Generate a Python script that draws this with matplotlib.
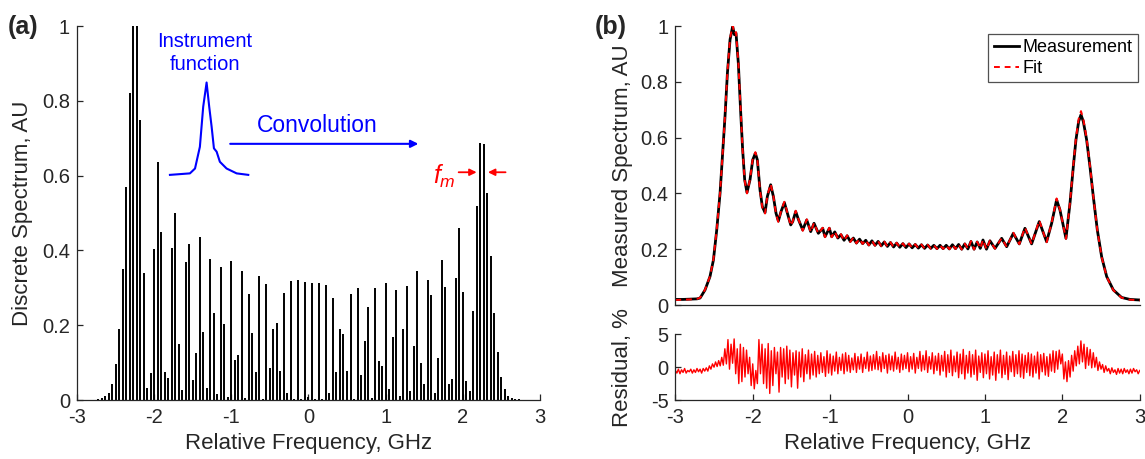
import numpy as np
import matplotlib
matplotlib.use('Agg')
import matplotlib.pyplot as plt

plt.rcParams['font.family'] = ['Liberation Sans', 'DejaVu Sans']
plt.rcParams['mathtext.fontset'] = 'custom'
plt.rcParams['mathtext.it'] = 'Liberation Sans:italic'
plt.rcParams['mathtext.rm'] = 'Liberation Sans'

# ---- (a) discrete spectrum: comb lines with spacing fm ----
comb_f0 = -2.724   # GHz, first line
comb_fm = 0.0454   # GHz, line spacing
bar_h = [0.003, 0.005, 0.010, 0.018, 0.043, 0.095, 0.190, 0.350, 0.570, 0.820,
         1.000, 1.000, 0.750, 0.340, 0.033, 0.071, 0.405, 0.636, 0.450, 0.076,
         0.058, 0.407, 0.500, 0.150, 0.027, 0.368, 0.416, 0.053, 0.127, 0.436,
         0.181, 0.031, 0.378, 0.233, 0.015, 0.356, 0.202, 0.009, 0.371, 0.107,
         0.120, 0.346, 0.006, 0.283, 0.179, 0.076, 0.331, 0.003, 0.310, 0.085,
         0.190, 0.207, 0.078, 0.287, 0.018, 0.318, 0.002, 0.320, 0.002, 0.316,
         0.009, 0.314, 0.002, 0.313, 0.002, 0.307, 0.018, 0.274, 0.074, 0.190,
         0.176, 0.078, 0.283, 0.002, 0.300, 0.067, 0.158, 0.250, 0.006, 0.300,
         0.104, 0.091, 0.314, 0.030, 0.168, 0.294, 0.012, 0.189, 0.306, 0.025,
         0.144, 0.345, 0.099, 0.043, 0.320, 0.282, 0.020, 0.113, 0.374, 0.303,
         0.043, 0.056, 0.327, 0.459, 0.290, 0.051, 0.024, 0.238, 0.520, 0.688,
         0.684, 0.554, 0.385, 0.234, 0.129, 0.062, 0.029, 0.012, 0.006, 0.003,
         0.002]

# instrument function sketch (drawn in the data frame of panel a)
instr_x = [-1.795, -1.536, -1.470, -1.407, -1.364, -1.320, -1.286, -1.255,
           -1.225, -1.190, -1.148, -1.061, -0.931, -0.780]
instr_y = [0.602, 0.606, 0.619, 0.677, 0.784, 0.849, 0.784, 0.731,
           0.673, 0.664, 0.637, 0.619, 0.606, 0.602]

# ---- (b) measured spectrum and fit ----
meas_x = [-3.000, -2.900, -2.810, -2.720, -2.680, -2.616, -2.552, -2.508, -2.465, -2.422,
          -2.388, -2.358, -2.327, -2.293, -2.259, -2.237, -2.216, -2.186, -2.155, -2.130,
          -2.104, -2.074, -2.035, -2.000, -1.966, -1.940, -1.906, -1.876, -1.841, -1.811,
          -1.768, -1.733, -1.699, -1.669, -1.634, -1.591, -1.552, -1.509, -1.483, -1.445,
          -1.410, -1.354, -1.302, -1.251, -1.208, -1.152, -1.096, -1.066, -1.010, -0.980,
          -0.940, -0.900, -0.860, -0.820, -0.780, -0.740, -0.700, -0.660, -0.620, -0.580,
          -0.540, -0.500, -0.460, -0.420, -0.380, -0.340, -0.300, -0.260, -0.220, -0.180,
          -0.140, -0.100, -0.060, -0.020, 0.020, 0.060, 0.100, 0.140, 0.180, 0.220,
          0.260, 0.300, 0.340, 0.380, 0.420, 0.460, 0.500, 0.540, 0.580, 0.620,
          0.660, 0.700, 0.740, 0.780, 0.820, 0.860, 0.900, 0.940, 0.975, 1.020,
          1.065, 1.130, 1.216, 1.281, 1.367, 1.444, 1.517, 1.603, 1.702, 1.797,
          1.862, 1.926, 1.969, 2.047, 2.099, 2.142, 2.176, 2.211, 2.241, 2.271,
          2.314, 2.357, 2.400, 2.452, 2.508, 2.573, 2.659, 2.766, 2.874, 3.000]
meas_y = [0.020, 0.020, 0.021, 0.022, 0.025, 0.054, 0.102, 0.161, 0.269, 0.401,
          0.544, 0.676, 0.831, 0.951, 0.999, 0.969, 0.975, 0.867, 0.688, 0.556,
          0.449, 0.403, 0.449, 0.520, 0.544, 0.520, 0.413, 0.353, 0.331, 0.389,
          0.431, 0.389, 0.329, 0.301, 0.335, 0.367, 0.329, 0.287, 0.299, 0.335,
          0.307, 0.269, 0.305, 0.263, 0.293, 0.257, 0.275, 0.245, 0.275, 0.245,
          0.262, 0.240, 0.252, 0.232, 0.248, 0.228, 0.240, 0.222, 0.236, 0.220,
          0.232, 0.215, 0.230, 0.214, 0.228, 0.212, 0.226, 0.210, 0.224, 0.208,
          0.222, 0.207, 0.220, 0.206, 0.219, 0.205, 0.217, 0.204, 0.216, 0.203,
          0.215, 0.203, 0.214, 0.202, 0.214, 0.202, 0.214, 0.201, 0.216, 0.202,
          0.217, 0.200, 0.219, 0.201, 0.228, 0.200, 0.226, 0.203, 0.233, 0.200,
          0.230, 0.203, 0.239, 0.209, 0.257, 0.219, 0.275, 0.219, 0.299, 0.227,
          0.293, 0.377, 0.341, 0.239, 0.365, 0.496, 0.592, 0.658, 0.682, 0.658,
          0.592, 0.496, 0.389, 0.269, 0.173, 0.102, 0.054, 0.027, 0.020, 0.018]
fit_y = [0.018, 0.019, 0.020, 0.022, 0.026, 0.055, 0.103, 0.163, 0.271, 0.403,
         0.546, 0.679, 0.835, 0.956, 1.002, 0.972, 0.978, 0.870, 0.690, 0.553,
         0.446, 0.400, 0.451, 0.524, 0.548, 0.522, 0.410, 0.350, 0.328, 0.392,
         0.434, 0.390, 0.326, 0.298, 0.337, 0.370, 0.330, 0.284, 0.300, 0.338,
         0.308, 0.266, 0.307, 0.261, 0.295, 0.255, 0.277, 0.243, 0.277, 0.243,
         0.264, 0.238, 0.254, 0.230, 0.250, 0.226, 0.242, 0.221, 0.238, 0.219,
         0.234, 0.214, 0.231, 0.213, 0.229, 0.211, 0.227, 0.209, 0.225, 0.207,
         0.223, 0.206, 0.221, 0.205, 0.220, 0.204, 0.218, 0.203, 0.217, 0.202,
         0.216, 0.202, 0.215, 0.201, 0.215, 0.201, 0.215, 0.200, 0.217, 0.201,
         0.218, 0.199, 0.220, 0.200, 0.229, 0.199, 0.227, 0.202, 0.234, 0.199,
         0.231, 0.202, 0.240, 0.208, 0.259, 0.218, 0.278, 0.218, 0.303, 0.225,
         0.295, 0.382, 0.343, 0.237, 0.368, 0.501, 0.598, 0.667, 0.695, 0.667,
         0.597, 0.499, 0.390, 0.268, 0.172, 0.101, 0.053, 0.026, 0.019, 0.017]

# residual (%), sampled every 0.02 GHz from -3 to 3
resid_step = 0.02
resid = [-0.5, -0.9, -0.3, -1.0, -0.4, -0.8, -0.2, -0.9, -0.5, -0.7,
         -0.3, -0.9, -0.4, -0.8, -0.2, -0.7, -0.3, -0.9, -0.2, -0.6,
         -0.1, -0.6, 0.2, -0.3, 0.5, 0.0, 0.8, 0.1, 1.0, 0.2,
         1.5, 0.3, 2.8, 0.5, 4.2, -0.3, 3.5, 0.6, 4.3, -1.0,
         2.8, -2.5, 3.5, -2.2, 3.0, -1.5, 2.6, -1.0, 1.5, -2.8,
         0.5, -3.3, -0.5, -2.5, 4.2, -1.0, 3.5, -2.5, 2.8, -3.2,
         3.6, -4.0, 2.5, -2.8, 3.0, -1.0, 2.3, -3.8, 3.0, -1.5,
         2.8, -2.5, 3.2, -1.8, 2.6, -3.0, 2.2, -1.2, 2.5, -3.2,
         2.3, -1.5, 2.8, -2.2, 1.9, -1.0, 2.6, -1.8, 2.0, -1.2,
         2.4, -1.5, 1.8, -1.0, 2.2, -0.8, 1.6, -1.4, 2.5, -0.9,
         2.0, -1.2, 1.7, -0.6, 2.3, -1.0, 1.5, -0.5, 2.0, -1.0,
         2.2, -0.6, 1.8, -0.8, 1.4, -0.4, 2.1, -0.8, 1.6, -0.3,
         2.0, -0.8, 1.5, -0.2, 2.3, -0.6, 1.7, -0.5, 1.9, -0.3,
         2.4, -0.4, 1.6, -0.7, 2.2, -0.2, 1.8, -0.9, 2.0, -0.4,
         1.7, -0.6, 2.3, -0.3, 1.5, -0.8, 2.0, -0.4, 1.8, -0.2,
         2.2, -0.7, 1.6, -0.3, 2.1, -0.9, 1.5, -0.2, 2.4, -0.6,
         1.8, -0.4, 2.5, -0.8, 1.6, -0.3, 2.2, -1.0, 1.7, -0.5,
         2.1, -1.2, 1.8, -0.6, 2.4, -1.5, 1.9, -0.8, 2.6, -1.3,
         1.7, -0.7, 2.3, -1.6, 2.0, -1.0, 2.7, -1.8, 1.8, -0.9,
         2.4, -1.5, 1.9, -1.1, 2.6, -2.0, 1.7, -0.8, 2.2, -1.6,
         2.0, -1.0, 2.5, -1.8, 1.6, -1.2, 2.3, -2.0, 1.9, -0.9,
         2.6, -1.6, 1.8, -1.1, 2.3, -1.9, 1.7, -0.7, 2.4, -1.4,
         1.9, -1.0, 2.5, -1.5, 2.0, -1.7, 1.8, -0.8, 2.2, -1.3,
         2.0, -1.5, 1.7, -0.9, 2.3, -1.8, 1.9, -0.7, 2.1, -1.2,
         1.6, -1.4, 2.0, -0.6, 2.5, -0.8, 2.4, -0.3, 2.6, 0.5,
         2.0, -1.8, 0.8, -2.2, 1.0, -1.5, 1.8, -0.6, 2.5, 0.2,
         3.2, 0.5, 4.0, 0.8, 3.5, -0.2, 3.0, 0.3, 2.7, -0.1,
         2.2, 0.0, 1.5, -0.5, 0.8, -0.3, 0.4, -0.8, 0.2, -0.6,
         -0.2, -1.0, -0.1, -0.8, -0.4, -1.1, -0.2, -0.9, -0.3, -1.0,
         -0.2, -0.8, -0.4, -1.0, -0.3, -0.9, -0.2, -0.7, -0.4, -1.0,
         -0.5]

freq_ticks = [-3, -2, -1, 0, 1, 2, 3]
spec_ticks = [0, 0.2, 0.4, 0.6, 0.8, 1]
spec_labels = ['0', '0.2', '0.4', '0.6', '0.8', '1']

AXC = '#262626'
TICK_FS = 14.5
LABEL_FS = 16


def style(ax):
    for s in ['top', 'right']:
        ax.spines[s].set_visible(False)
    for s in ['left', 'bottom']:
        ax.spines[s].set_color(AXC)
        ax.spines[s].set_linewidth(0.9)
    ax.tick_params(direction='in', length=4, width=0.9, colors=AXC, labelsize=TICK_FS)
    ax.tick_params(axis='x', pad=6)
    ax.tick_params(axis='y', pad=5)


fig = plt.figure(figsize=(11.45, 4.59), dpi=100)

# ---------------- panel (a) ----------------
ax1 = fig.add_axes([0.0672, 0.1285, 0.4044, 0.8148])
style(ax1)
bar_x = comb_f0 + comb_fm * np.arange(len(bar_h))
ax1.vlines(bar_x, 0, bar_h, color='k', lw=1.4)
ax1.set_xlim(-3, 3)
ax1.set_ylim(0, 1)
ax1.set_xticks(freq_ticks)
ax1.set_xticklabels([str(t) for t in freq_ticks])
ax1.set_yticks(spec_ticks)
ax1.set_yticklabels(spec_labels)
ax1.set_xlabel('Relative Frequency, GHz', fontsize=LABEL_FS, color=AXC, labelpad=4)
ax1.set_ylabel('Discrete Spectrum, AU', fontsize=LABEL_FS, color=AXC)
ax1.yaxis.set_label_coords(-0.095, 0.5)

ax1.plot(instr_x, instr_y, color='b', lw=1.5)
ax1.text(-1.34, 0.928, 'Instrument\nfunction', color='b', fontsize=14.5,
         ha='center', va='center', linespacing=1.25)
ax1.text(0.11, 0.735, 'Convolution', color='b', fontsize=16.5, ha='center', va='center')
ax1.annotate('', xy=(1.46, 0.685), xytext=(-1.05, 0.685),
             arrowprops=dict(arrowstyle='-|>', color='b', lw=1.5, mutation_scale=11))
ax1.text(1.76, 0.597, r'$f_m$', color='r', fontsize=18, ha='center', va='center')
ax1.annotate('', xy=(2.215, 0.609), xytext=(1.91, 0.609),
             arrowprops=dict(arrowstyle='-|>', color='r', lw=1.3, mutation_scale=10))
ax1.annotate('', xy=(2.29, 0.609), xytext=(2.59, 0.609),
             arrowprops=dict(arrowstyle='-|>', color='r', lw=1.3, mutation_scale=10))

fig.text(0.007, 1 - 27 / 459, '(a)', fontsize=18, fontweight='bold', va='center', color=AXC)
fig.text(0.519, 1 - 27 / 459, '(b)', fontsize=18, fontweight='bold', va='center', color=AXC)

# ---------------- panel (b) top ----------------
ax2 = fig.add_axes([0.5898, 0.3355, 0.4056, 0.6078])
style(ax2)
ax2.plot(meas_x, meas_y, color='k', lw=2.0, label='Measurement')
ax2.plot(meas_x, fit_y, color='r', lw=1.4, ls=(0, (3, 2.5)), label='Fit')
ax2.set_xlim(-3, 3)
ax2.set_ylim(0, 1)
ax2.set_xticks([])
ax2.set_yticks(spec_ticks)
ax2.set_yticklabels(spec_labels)
ax2.set_ylabel('Measured Spectrum, AU', fontsize=LABEL_FS, color=AXC)
ax2.yaxis.set_label_coords(-0.092, 0.5)
leg = ax2.legend(loc='upper right', bbox_to_anchor=(0.996, 0.972), fontsize=13,
                 frameon=True, fancybox=False, edgecolor=AXC, handlelength=1.4,
                 handletextpad=0.2, borderpad=0.3, labelspacing=0.2, borderaxespad=0)
leg.get_frame().set_linewidth(0.9)

# ---------------- panel (b) residual ----------------
ax3 = fig.add_axes([0.5898, 0.1285, 0.4056, 0.1431])
style(ax3)
resid_x = -3 + resid_step * np.arange(len(resid))
ax3.plot(resid_x, resid, color='r', lw=1.0)
ax3.set_xlim(-3, 3)
ax3.set_ylim(-5, 5)
ax3.set_xticks(freq_ticks)
ax3.set_xticklabels([str(t) for t in freq_ticks])
ax3.set_yticks([-5, 0, 5])
ax3.set_yticklabels(['-5', '0', '5'])
ax3.set_xlabel('Relative Frequency, GHz', fontsize=LABEL_FS, color=AXC, labelpad=4)
ax3.set_ylabel('Residual, %', fontsize=LABEL_FS, color=AXC)
ax3.yaxis.set_label_coords(-0.092, 0.5)

fig.savefig('out.png', dpi=100)
